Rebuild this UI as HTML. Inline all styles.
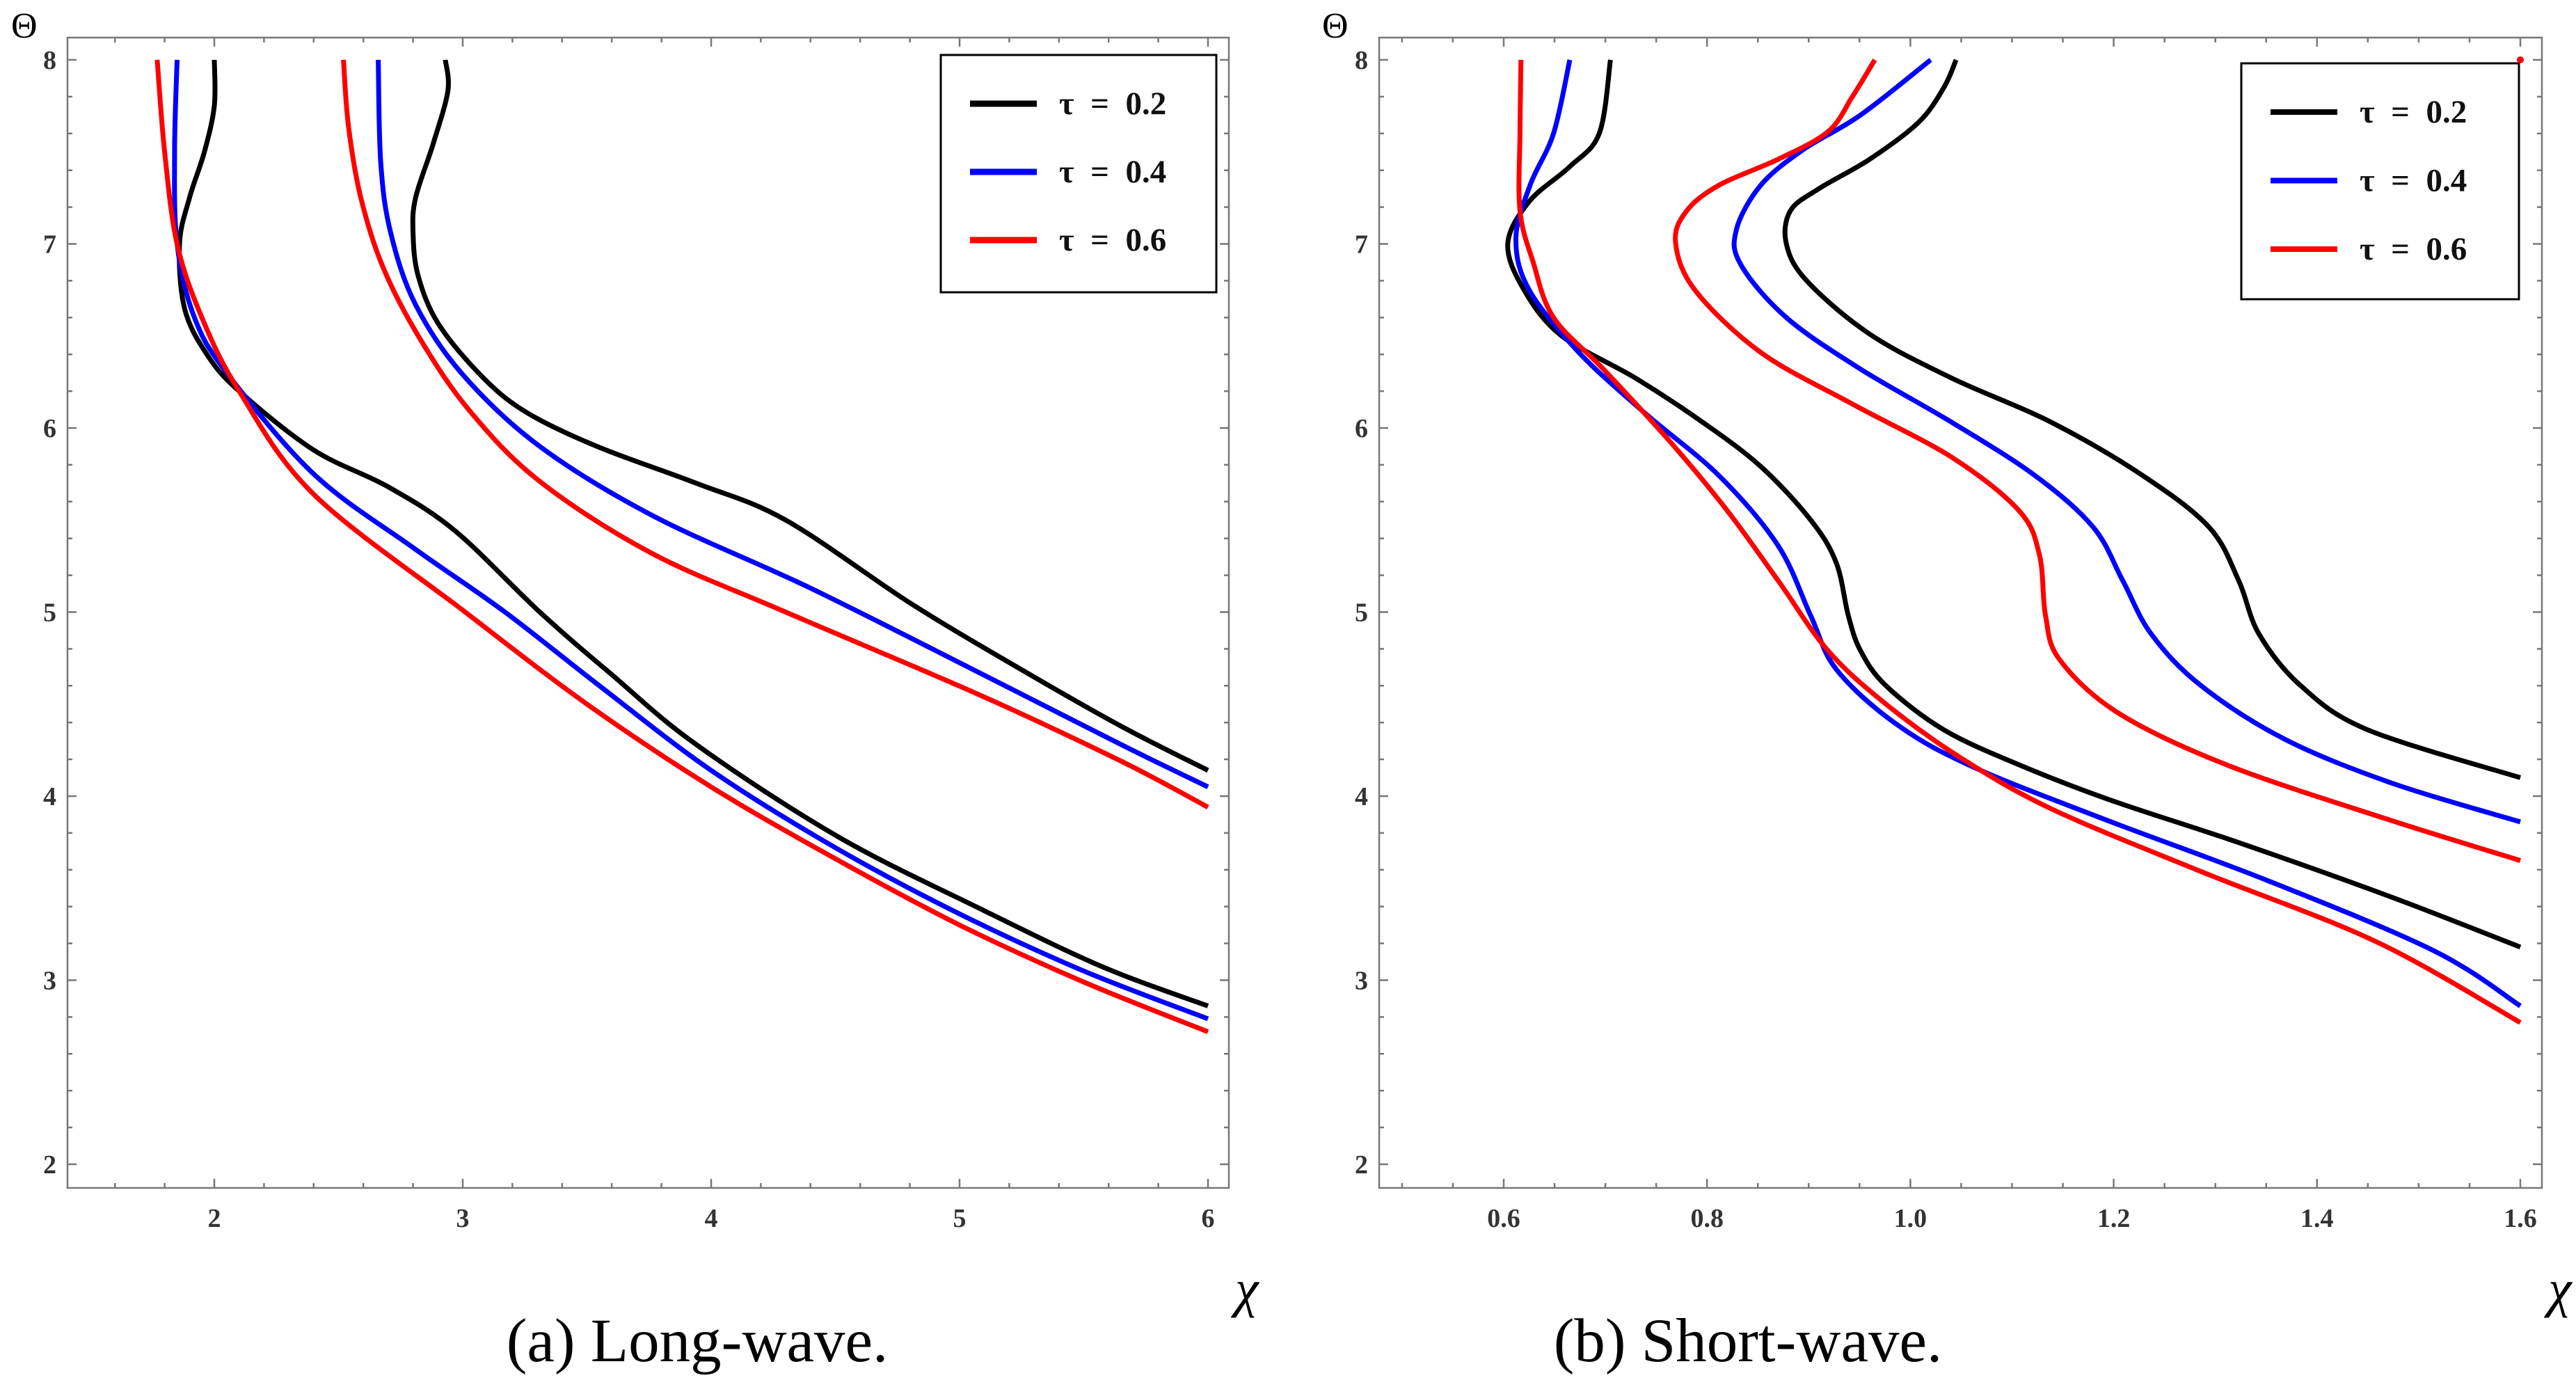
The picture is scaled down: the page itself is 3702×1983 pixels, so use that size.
<!DOCTYPE html>
<html><head><meta charset="utf-8"><style>
html,body{margin:0;padding:0;background:#fff}
svg{display:block}
text{font-family:"Liberation Serif",serif}
</style></head><body>
<svg id="fig" width="3702" height="1983" viewBox="0 0 3702 1983" xmlns="http://www.w3.org/2000/svg"></svg>
<script>
// ---- data ----
const xTicksA = [2,3,4,5,6];
const xTickLabelsA = ["2","3","4","5","6"];
const xTicksB = [0.6,0.8,1.0,1.2,1.4,1.6];
const xTickLabelsB = ["0.6","0.8","1.0","1.2","1.4","1.6"];
const yTicks = [2,3,4,5,6,7,8];
const yTickLabels = ["2","3","4","5","6","7","8"];
const seriesNames = ["τ = 0.2","τ = 0.4","τ = 0.6"];
const seriesColors = ["#000000","#0000ff","#ff0000"];
// Long-wave: [chi, theta]
const longLowTau02 = [[2.0,8],[2.0,7.75],[1.96,7.5],[1.9,7.25],[1.86,7.0],[1.88,6.65],[1.97,6.4],[2.1,6.2],[2.4,5.88],[2.7,5.68],[2.97,5.44],[3.31,5.0],[3.6,4.66],[3.94,4.28],[4.51,3.78],[5.08,3.39],[5.58,3.07],[6,2.86]];
const longLowTau04 = [[1.85,8],[1.84,7.5],[1.85,7.0],[1.92,6.6],[2.05,6.3],[2.4,5.75],[2.8,5.35],[3.17,5.0],[3.55,4.6],[4.0,4.14],[4.5,3.72],[5.0,3.36],[5.5,3.05],[6,2.79]];
const longLowTau06 = [[1.77,8],[1.8,7.5],[1.85,7.0],[1.95,6.6],[2.1,6.2],[2.4,5.64],[3.01,5.0],[3.5,4.5],[4.0,4.05],[4.5,3.66],[5.0,3.3],[5.5,2.99],[6,2.72]];
const longHighTau02 = [[2.93,8],[2.94,7.83],[2.88,7.54],[2.81,7.25],[2.8,7.06],[2.82,6.83],[2.9,6.57],[3.07,6.29],[3.25,6.09],[3.54,5.9],[3.94,5.7],[4.3,5.5],[4.8,5.05],[5.22,4.71],[5.65,4.38],[6,4.14]];
const longHighTau04 = [[2.66,8],[2.67,7.44],[2.71,7.06],[2.81,6.67],[3.0,6.29],[3.31,5.9],[3.77,5.52],[4.4,5.13],[5.08,4.67],[5.65,4.28],[6,4.05]];
const longHighTau06 = [[2.52,8],[2.54,7.64],[2.59,7.25],[2.68,6.87],[2.83,6.48],[3.03,6.09],[3.31,5.71],[3.76,5.32],[4.3,5.0],[5.08,4.55],[5.65,4.19],[6,3.94]];
// Short-wave
const shortLowTau02 = [[0.705,8],[0.694,7.6],[0.665,7.42],[0.625,7.23],[0.604,7.0],[0.62,6.75],[0.657,6.5],[0.73,6.27],[0.796,6.03],[0.853,5.79],[0.902,5.5],[0.927,5.27],[0.939,4.98],[0.951,4.79],[0.976,4.6],[1.033,4.36],[1.107,4.17],[1.196,3.98],[1.327,3.74],[1.474,3.45],[1.6,3.18]];
const shortLowTau04 = [[0.665,8],[0.649,7.6],[0.626,7.32],[0.612,7.03],[0.625,6.75],[0.674,6.41],[0.739,6.08],[0.812,5.74],[0.87,5.36],[0.902,4.98],[0.927,4.69],[0.984,4.4],[1.057,4.17],[1.188,3.88],[1.352,3.54],[1.515,3.16],[1.6,2.86]];
const shortLowTau06 = [[0.617,8],[0.616,7.6],[0.616,7.18],[0.629,6.9],[0.649,6.6],[0.698,6.32],[0.763,5.93],[0.82,5.55],[0.87,5.17],[0.919,4.79],[0.976,4.5],[1.049,4.21],[1.139,3.93],[1.286,3.59],[1.458,3.21],[1.6,2.77]];
const shortHighTau02 = [[1.045,8],[1.033,7.85],[1.008,7.66],[0.96,7.46],[0.91,7.3],[0.882,7.18],[0.878,7.0],[0.898,6.8],[0.96,6.51],[1.041,6.27],[1.139,6.03],[1.229,5.74],[1.294,5.46],[1.323,5.17],[1.343,4.88],[1.384,4.6],[1.45,4.36],[1.6,4.1]];
const shortHighTau04 = [[1.02,8],[0.951,7.7],[0.894,7.51],[0.853,7.32],[0.829,7.08],[0.833,6.89],[0.878,6.6],[0.951,6.32],[1.041,6.03],[1.123,5.74],[1.18,5.46],[1.209,5.17],[1.237,4.88],[1.286,4.6],[1.368,4.31],[1.474,4.07],[1.6,3.86]];
const shortHighTau06 = [[0.965,8],[0.943,7.8],[0.919,7.61],[0.87,7.46],[0.812,7.32],[0.78,7.18],[0.769,7.01],[0.788,6.75],[0.853,6.41],[0.943,6.13],[1.041,5.84],[1.107,5.55],[1.127,5.31],[1.133,4.98],[1.147,4.74],[1.205,4.45],[1.311,4.17],[1.466,3.88],[1.6,3.65]];

const NS="http://www.w3.org/2000/svg";
const svg=document.getElementById('fig');
function mk(tag,attrs,parent){const e=document.createElementNS(NS,tag);for(const k in attrs)e.setAttribute(k,attrs[k]);(parent||svg).appendChild(e);return e;}

function spline(pts){
  let d="M"+pts[0][0].toFixed(1)+","+pts[0][1].toFixed(1);
  for(let i=0;i<pts.length-1;i++){
    const p0=pts[Math.max(0,i-1)],p1=pts[i],p2=pts[i+1],p3=pts[Math.min(pts.length-1,i+2)];
    const c1=[p1[0]+(p2[0]-p0[0])/6,p1[1]+(p2[1]-p0[1])/6];
    const c2=[p2[0]-(p3[0]-p1[0])/6,p2[1]-(p3[1]-p1[1])/6];
    d+=` C${c1[0].toFixed(1)},${c1[1].toFixed(1)} ${c2[0].toFixed(1)},${c2[1].toFixed(1)} ${p2[0].toFixed(1)},${p2[1].toFixed(1)}`;
  }
  return d;
}

const TOP=54, BOT=1707;
function panel(cfg){
  const g=mk('g',{});
  
  
  const sx=v=>cfg.x0px+(v-cfg.x0v)*(cfg.x1px-cfg.x0px)/(cfg.x1v-cfg.x0v);
  const sy=v=>86+(8-v)*(1673-86)/6;
  const fr=mk('rect',{x:cfg.L,y:TOP,width:cfg.R-cfg.L,height:BOT-TOP,fill:'none',stroke:'#777',"stroke-width":2.5},g);
  
  
  for(let v=cfg.minorStart;v<=cfg.R_v+1e-9;v+=cfg.minor){
    const major=cfg.xMajor.some(m=>Math.abs(m-v)<1e-6);
    const px=sx(v); if(px<cfg.L||px>cfg.R)continue;
    const len=major?13:7;
    mk('line',{x1:px,y1:BOT,x2:px,y2:BOT-len,stroke:'#777','stroke-width':2.5},g);
    mk('line',{x1:px,y1:TOP,x2:px,y2:TOP+len,stroke:'#777','stroke-width':2.5},g);
  }
  cfg.xMajor.forEach((v,i)=>{
    const t=mk('text',{x:sx(v),y:1763,'text-anchor':'middle','font-size':38,'font-weight':'bold',fill:'#333'},g);
    t.textContent=cfg.xLabels[i];
    
    
  });
  for(let v=1.8;v<=8.21;v+=0.2){
    const major=Math.abs(v-Math.round(v))<1e-6;
    const py=sy(v); if(py<TOP||py>BOT)continue;
    const len=major?13:7;
    mk('line',{x1:cfg.L,y1:py,x2:cfg.L+len,y2:py,stroke:'#777','stroke-width':2.5},g);
    mk('line',{x1:cfg.R,y1:py,x2:cfg.R-len,y2:py,stroke:'#777','stroke-width':2.5},g);
  }
  yTicks.forEach((v,i)=>{
    const t=mk('text',{x:cfg.L-16,y:sy(v)+13,'text-anchor':'end','font-size':38,'font-weight':'bold',fill:'#333'},g);
    t.textContent=yTickLabels[i];
    
    
  });
  cfg.series.forEach((s,i)=>{
    const p=mk('path',{d:spline(s.pts.map(q=>[sx(q[0]),sy(q[1])])),fill:'none',stroke:seriesColors[s.c],'stroke-width':7,'stroke-linejoin':'round'},g);
    
    
  });
  const lg=mk('g',{},g);
  
  
  mk('rect',{x:cfg.lg[0],y:cfg.lg[1],width:cfg.lg[2],height:cfg.lg[3],fill:'#fff',stroke:'#000','stroke-width':3},lg);
  seriesNames.forEach((n,i)=>{
    const yy=cfg.lg[1]+cfg.lgOff+i*cfg.lgStep;
    const e=mk('g',{},lg);
    
    
    mk('line',{x1:cfg.lg[0]+42,y1:yy,x2:cfg.lg[0]+138,y2:yy,stroke:seriesColors[i],'stroke-width':cfg.lgW},e);
    const t=mk('text',{x:cfg.lg[0]+170,y:yy+15,'font-size':47,'font-weight':'bold',fill:'#111'},e);
    t.textContent=n.replace(/ /g,'\u2002');
  });
  const th=mk('text',{x:cfg.thetaX,y:54,'font-size':52,fill:'#000'},g);
  th.textContent='Θ';
  
  
  const ch=mk('text',{x:cfg.chiX,y:1877,'font-size':76,'font-style':'italic',fill:'#000'},g);
  ch.textContent='χ';
  
  
  const cap=mk('text',{x:cfg.capX,y:1956,'text-anchor':'middle','font-size':89,fill:'#000'},g);
  cap.textContent=cfg.caption;
  
  
  return [sx,sy];
}

panel({name:'long-wave-panel',L:97,R:1766,x0v:2,x1v:6,x0px:308,x1px:1736,minorStart:1.2,minor:0.2,R_v:6.2,
  xMajor:xTicksA,xLabels:xTickLabelsA,lg:[1352,79,396,341],lgOff:70,lgStep:98,lgW:9,thetaX:16,chiX:1775,capX:1002,caption:'(a) Long-wave.',
  series:[{pts:longLowTau02,c:0,name:'long-low-tau-0.2'},{pts:longLowTau04,c:1,name:'long-low-tau-0.4'},{pts:longLowTau06,c:2,name:'long-low-tau-0.6'},
          {pts:longHighTau02,c:0,name:'long-high-tau-0.2'},{pts:longHighTau04,c:1,name:'long-high-tau-0.4'},{pts:longHighTau06,c:2,name:'long-high-tau-0.6'}]});
const axB=panel({name:'short-wave-panel',L:1982,R:3653,x0v:0.6,x1v:1.6,x0px:2161,x1px:3622,minorStart:0.45,minor:0.05,R_v:1.65,
  xMajor:xTicksB,xLabels:xTickLabelsB,lg:[3221,91,399,339],lgOff:70,lgStep:98.5,lgW:8,thetaX:1900,chiX:3662,capX:2512,caption:'(b) Short-wave.',
  series:[{pts:shortLowTau02,c:0,name:'short-low-tau-0.2'},{pts:shortLowTau04,c:1,name:'short-low-tau-0.4'},{pts:shortLowTau06,c:2,name:'short-low-tau-0.6'},
          {pts:shortHighTau02,c:0,name:'short-high-tau-0.2'},{pts:shortHighTau04,c:1,name:'short-high-tau-0.4'},{pts:shortHighTau06,c:2,name:'short-high-tau-0.6'}]});
const dot=mk('circle',{cx:axB[0](1.6),cy:axB[1](8),r:5,fill:'#f00'});


</script>
</body></html>
